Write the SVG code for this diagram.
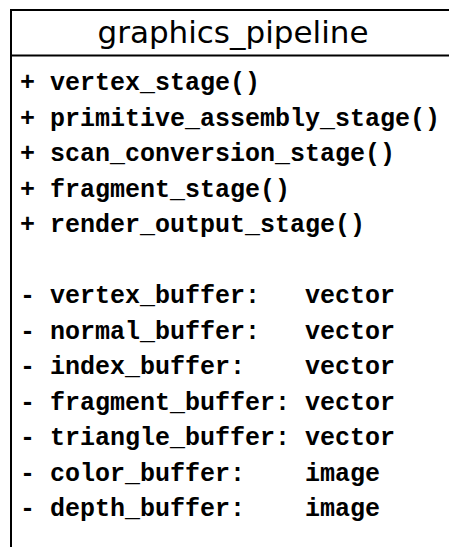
<svg xmlns="http://www.w3.org/2000/svg" width="449" height="547" viewBox="0 0 449 547">
<style>
.box{fill:#fff;stroke:#000;stroke-width:2}
.title{font-family:"DejaVu Sans",sans-serif;font-size:31px;fill:#000;text-anchor:middle}
.m{font-family:"Liberation Mono","Courier New",monospace;font-weight:bold;font-size:25px;fill:#000;white-space:pre}
</style>
<rect width="449" height="547" fill="#fff"/>
<g id="graphics_pipeline">
<rect class="box" x="11" y="10" width="460" height="560"/>
<line x1="11" y1="55.5" x2="471" y2="55.5" stroke="#000" stroke-width="2"/>
<text class="title" x="233" y="43">graphics_pipeline</text>
<text class="m" x="20" y="90" xml:space="preserve">+ vertex_stage()</text>
<text class="m" x="20" y="125.5" xml:space="preserve">+ primitive_assembly_stage()</text>
<text class="m" x="20" y="161" xml:space="preserve">+ scan_conversion_stage()</text>
<text class="m" x="20" y="196.5" xml:space="preserve">+ fragment_stage()</text>
<text class="m" x="20" y="232" xml:space="preserve">+ render_output_stage()</text>
<text class="m" x="20" y="303" xml:space="preserve">- vertex_buffer:   vector</text>
<text class="m" x="20" y="338.5" xml:space="preserve">- normal_buffer:   vector</text>
<text class="m" x="20" y="374" xml:space="preserve">- index_buffer:    vector</text>
<text class="m" x="20" y="409.5" xml:space="preserve">- fragment_buffer: vector</text>
<text class="m" x="20" y="445" xml:space="preserve">- triangle_buffer: vector</text>
<text class="m" x="20" y="480.5" xml:space="preserve">- color_buffer:    image</text>
<text class="m" x="20" y="516" xml:space="preserve">- depth_buffer:    image</text>
</g>
<g id="connectors"/>
</svg>
